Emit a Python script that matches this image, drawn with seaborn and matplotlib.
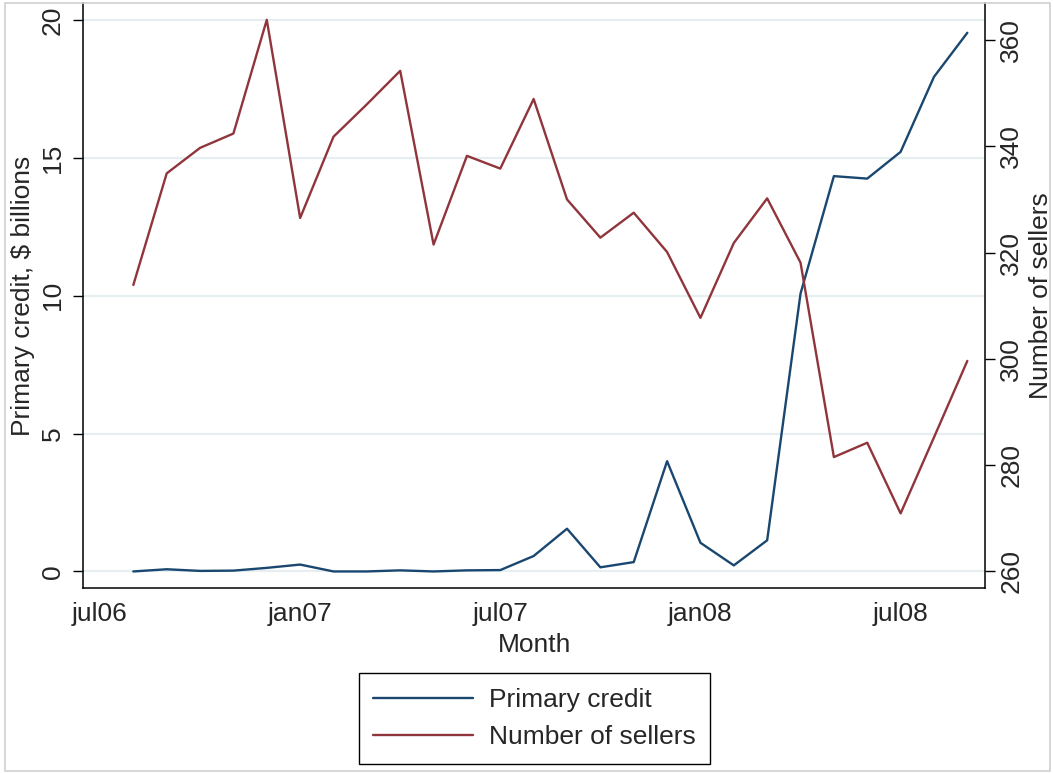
import numpy as np
import pandas as pd
import matplotlib
matplotlib.use("Agg")
import matplotlib.pyplot as plt
from matplotlib.patches import Rectangle
import seaborn as sns

# Monthly observations, aug06 .. sep08
months = ["aug06", "sep06", "oct06", "nov06", "dec06", "jan07", "feb07", "mar07",
          "apr07", "may07", "jun07", "jul07", "aug07", "sep07", "oct07", "nov07",
          "dec07", "jan08", "feb08", "mar08", "apr08", "may08", "jun08", "jul08",
          "aug08", "sep08"]
primary_credit = [0.00, 0.08, 0.02, 0.03, 0.13, 0.25, 0.00, 0.00,
                  0.04, 0.00, 0.04, 0.05, 0.56, 1.55, 0.15, 0.34,
                  4.00, 1.04, 0.22, 1.13, 10.08, 14.34, 14.25, 15.22,
                  17.94, 19.54]
num_sellers = [313.9, 334.9, 339.7, 342.4, 363.8, 326.5, 341.8, 347.9,
               354.2, 321.5, 338.2, 335.8, 348.9, 330.0, 322.8, 327.5,
               320.1, 307.7, 321.8, 330.2, 318.1, 281.5, 284.2, 270.9,
               285.2, 299.6]
tick_labels = ["jul06", "jan07", "jul07", "jan08", "jul08"]

# month index counted from jul06 = 0
df = pd.DataFrame({
    "month": np.arange(1, len(months) + 1),
    "Primary credit": primary_credit,
    "Number of sellers": num_sellers,
})

sns.set_theme(style="white")
plt.rcParams["font.family"] = ["Liberation Sans", "DejaVu Sans"]

BLUE = "#1a476f"
RED = "#90353b"
GRID = "#e6eef1"
FS = 19

W, H = 1053, 773
L, R, B, T = 83.3, 985, 588.3, 3
fig = plt.figure(figsize=(W / 100, H / 100), dpi=100)
ax = fig.add_axes([L / W, 1 - B / H, (R - L) / W, (B - T) / H])
ax2 = ax.twinx()

sns.lineplot(data=df, x="month", y="Primary credit", ax=ax, color=BLUE,
             linewidth=1.7, label="Primary credit", legend=False)
sns.lineplot(data=df, x="month", y="Number of sellers", ax=ax2, color=RED,
             linewidth=1.7, label="Number of sellers", legend=False)

ax.set_xlim(-0.5, 26.53)
ax.set_ylim(-0.611, 20.62)
ax2.set_ylim(256.8, 366.97)

ax.set_xticks([0, 6, 12, 18, 24])
ax.set_xticklabels(tick_labels)
ax.set_yticks([0, 5, 10, 15, 20])
ax2.set_yticks([260, 280, 300, 320, 340, 360])

for a in (ax, ax2):
    a.tick_params(axis="both", which="major", labelsize=FS, length=7.2, width=1,
                  color="black", direction="out")
ax.tick_params(axis="x", pad=2.5)
ax.tick_params(axis="y", labelrotation=90, pad=6)
ax2.tick_params(axis="y", labelrotation=90, pad=3)
for lab in ax.get_yticklabels() + ax2.get_yticklabels():
    lab.set_va("center")

ax.yaxis.grid(True, color=GRID, linewidth=1.6)
ax.xaxis.grid(False)
ax2.grid(False)
ax.set_axisbelow(True)

for a in (ax, ax2):
    a.spines["top"].set_visible(False)
    for s in a.spines.values():
        s.set_color("black")
        s.set_linewidth(1.1)
ax.spines["right"].set_visible(False)
ax2.spines["left"].set_visible(False)
ax2.spines["bottom"].set_visible(False)

ax.set_xlabel("Month", fontsize=FS, labelpad=5)
ax.set_ylabel("Primary credit, $ billions", fontsize=FS)
ax2.set_ylabel("Number of sellers", fontsize=FS)
ax.yaxis.set_label_coords((35 - L) / (R - L), 0.5)
ax2.yaxis.set_label_coords((1029 - L) / (R - L), 0.5)

handles = ax.get_lines()[:1] + ax2.get_lines()[:1]
leg = fig.legend(handles, ["Primary credit", "Number of sellers"],
                 loc="center", bbox_to_anchor=(534.5 / W, 1 - 718.5 / H),
                 fontsize=FS, frameon=True, fancybox=False, framealpha=1,
                 edgecolor="black", handlelength=3.8, handletextpad=0.6,
                 labelspacing=0.5, borderpad=0.55)
leg.get_frame().set_linewidth(1.0)

# light outer frame around the graph region
fig.patches.append(Rectangle((5 / W, 2.5 / H), (W - 8) / W, (H - 5) / H,
                             transform=fig.transFigure, fill=False,
                             edgecolor="#cfcfcf", linewidth=1.2))

fig.savefig("out.png", dpi=100, facecolor="white")
